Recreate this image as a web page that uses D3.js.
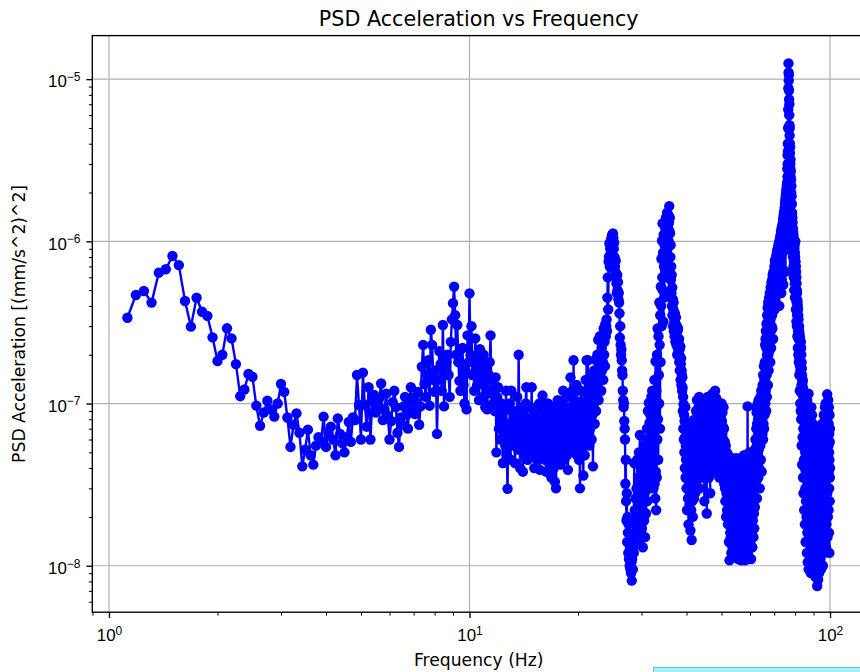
<!DOCTYPE html>
<html>
<head>
<meta charset="utf-8">
<script src="https://cdn.jsdelivr.net/npm/d3@7"></script>
<style>
  html, body { margin: 0; padding: 0; background: #ffffff; }
  svg { display: block; font-family: "DejaVu Sans", sans-serif; }
</style>
</head>
<body>
<svg id="chart" width="860" height="672"></svg>
<script>
// Frequency bins of the spectrum (uniform FFT grid)
const freqStartHz = 1.125;
const freqStepHz = 0.0625;

// PSD of acceleration, stored in units of 1e-9 (mm/s^2)^2
const psdUnit = 1e-9;
const psdNano = [
  338, 467, 494, 419, 641, 673, 812, 714, 429, 298, 449, 368, 347, 256,
  183, 200, 291, 252, 175, 111, 122, 152, 146, 97, 73, 88, 104, 92, 83, 100,
  132, 118, 82, 54, 74, 87, 66, 41, 52, 69, 48, 42, 55, 62, 58, 83,
  54, 66, 72, 60, 48, 81, 65, 57, 50, 62, 77, 58, 82, 79, 150, 98,
  60, 155, 98, 72, 126, 60, 104, 113, 88, 96, 108, 133, 79, 92, 115, 84,
  60, 78, 102, 120, 95, 66, 54, 82, 74, 96, 110, 85, 70, 104, 126, 90,
  108, 86, 100, 118, 74, 96, 169, 230, 132, 110, 150, 185, 97, 285, 230, 140,
  118, 160, 65, 140, 210, 175, 120, 305, 96, 150, 180, 200, 150, 110, 240, 330,
  416, 526, 350, 200, 305, 180, 138, 120, 175, 220, 130, 100, 160, 92, 263, 180,
  478, 200, 300, 150, 180, 120, 252, 160, 130, 190, 105, 216, 140, 175, 110, 200,
  130, 95, 160, 92, 120, 150, 180, 263, 115, 140, 100, 125, 90, 145, 50, 110,
  126, 70, 95, 60, 100, 80, 43, 65, 90, 55, 120, 48, 29.8, 75, 60, 100,
  45, 120, 70, 55, 90, 65, 43, 80, 60, 110, 52, 200, 75, 40, 95, 58,
  70, 38, 85, 50, 65, 100, 126, 55, 45, 80, 62, 95, 48, 70, 126, 60,
  50, 85, 40, 72, 58, 95, 45, 66, 80, 52, 100, 39, 60, 75, 48, 112,
  70, 55, 90, 45, 65, 38, 80, 58, 100, 50, 70, 42, 85, 60, 35, 75,
  55, 95, 40, 68, 33, 80, 30, 62, 50, 105, 45, 72, 58, 88, 42, 65,
  100, 50, 78, 120, 60, 45, 90, 55, 70, 110, 48, 82, 39, 65, 95, 58,
  75, 145, 60, 90, 50, 120, 70, 185, 85, 55, 105, 65, 95, 130, 48, 80,
  60, 100, 45, 75, 30, 55, 120, 70, 90, 50, 65, 36, 105, 80, 48, 95,
  140, 70, 185, 60, 110, 185, 80, 130, 55, 100, 70, 150, 90, 60, 120, 85,
  41, 140, 95, 160, 75, 120, 186, 90, 150, 110, 200, 130, 247, 105, 170, 140,
  260, 150, 190, 120, 220, 160, 250, 180, 140, 290, 200, 240, 170, 310, 260, 300,
  330, 280, 450, 600, 380, 750, 805, 970, 700, 900, 1000, 850, 1050, 950, 1100, 1000,
  1120, 1050, 900, 980, 800, 700, 650, 760, 600, 550, 480, 620, 500, 560, 440, 480,
  420, 360, 255, 300, 230, 200, 215, 185, 160, 150, 120, 105, 95, 100, 78, 70,
  60, 32, 45, 25, 19, 28, 14, 20, 16, 12, 18, 11, 14, 10, 13, 9.5,
  12, 9, 10.5, 8.1, 11, 15, 9.5, 13, 19, 12, 43, 16, 22, 14, 26, 18,
  20, 30, 16, 45, 25, 14, 35, 22, 50, 18, 28, 64, 33, 20, 40, 24,
  30, 17, 45, 22, 13, 35, 26, 55, 19, 40, 28, 15, 48, 32, 21, 60,
  38, 70, 25, 50, 90, 35, 60, 101, 45, 76, 30, 55, 85, 42, 65, 110,
  75, 50, 120, 40, 90, 57, 30, 70, 45, 140, 32, 60, 26, 182, 38, 22,
  120, 35, 200, 60, 290, 80, 45, 260, 150, 100, 420, 230, 70, 350, 180, 525,
  400, 780, 300, 1010, 600, 1290, 500, 850, 320, 1100, 700, 450, 950, 1300, 800, 1200,
  900, 1400, 1100, 600, 1250, 1500, 900, 1350, 700, 1200, 1450, 1000, 1300, 1650, 1150, 1400,
  1120, 800, 950, 580, 700, 480, 620, 400, 520, 350, 440, 300, 380, 420, 280, 340,
  320, 260, 360, 290, 240, 310, 340, 270, 230, 300, 250, 200, 280, 220, 290, 240,
  230, 200, 250, 180, 215, 160, 195, 225, 140, 175, 190, 130, 160, 150, 120, 145,
  125, 90, 110, 70, 99, 60, 85, 50, 78, 40, 62, 95, 35, 55, 45, 72,
  30, 55, 22, 48, 38, 70, 26, 45, 18, 60, 33, 50, 24, 40, 28, 56,
  16.5, 35, 52, 22, 44, 14.4, 30, 65, 25, 38, 20, 48, 79, 30, 42, 26,
  60, 35, 79, 45, 28, 55, 70, 40, 90, 50, 33, 65, 105, 48, 75, 42,
  55, 80, 38, 95, 60, 45, 110, 70, 30, 85, 52, 65, 40, 100, 58, 75,
  90, 48, 70, 97, 35, 62, 80, 50, 105, 42, 68, 88, 55, 25, 75, 60,
  85, 45, 65, 100, 38, 70, 55, 90, 21, 60, 80, 48, 110, 66, 40, 78,
  55, 95, 35, 72, 60, 105, 45, 80, 28, 68, 90, 50, 75, 40, 85, 62,
  100, 58, 75, 115, 48, 82, 65, 95, 38, 70, 110, 55, 88, 42, 78, 60,
  120, 70, 95, 52, 85, 108, 60, 78, 45, 92, 65, 100, 50, 72, 88, 58,
  80, 45, 98, 60, 75, 35, 90, 55, 68, 100, 42, 70, 58, 85, 48, 62,
  100, 55, 78, 40, 65, 88, 50, 72, 36, 60, 95, 45, 58, 70, 32, 52,
  40, 58, 30, 48, 25, 42, 55, 35, 20, 45, 28, 38, 50, 22, 33, 44,
  26, 40, 18, 35, 48, 22, 30, 14, 38, 25, 10.8, 32, 20, 45, 16, 28,
  35, 15, 42, 22, 12, 30, 46, 18, 26, 38, 13, 24, 40, 19, 33, 16,
  28, 44, 14, 36, 20, 11.5, 30, 42, 17, 25, 38, 13, 32, 22, 46, 18,
  24, 35, 12, 40, 19, 28, 45, 15, 33, 21, 11, 37, 26, 16, 42, 23,
  30, 14, 38, 20, 46, 25, 12, 34, 18, 42, 27, 10.8, 31, 22, 44, 16,
  36, 19, 28, 45, 13, 33, 24, 40, 11, 29, 38, 17, 48, 22, 35, 14,
  26, 42, 10.8, 32, 20, 47, 15, 36, 24, 13, 40, 28, 18, 44, 21, 34,
  16, 96, 30, 12, 38, 22, 45, 14, 28, 40, 19, 33, 50, 24, 36, 20,
  22, 35, 14, 42, 18, 28, 11, 33, 25, 46, 16, 30, 20, 38, 13, 27,
  40, 19, 32, 24, 48, 15, 29, 36, 21, 44, 17, 34, 26, 52, 23, 38,
  45, 30, 60, 38, 95, 50, 35, 70, 42, 88, 55, 26, 75, 40, 62, 48,
  58, 100, 45, 80, 35, 66, 105, 52, 90, 40, 75, 95, 60, 30, 85, 70,
  95, 55, 110, 70, 45, 100, 80, 120, 60, 105, 38, 90, 115, 75, 100, 65,
  130, 90, 110, 60, 150, 105, 75, 125, 95, 170, 70, 120, 140, 85, 110, 180,
  140, 230, 100, 180, 250, 120, 280, 160, 90, 220, 310, 150, 240, 110, 200, 350,
  280, 180, 390, 240, 130, 340, 420, 200, 300, 160, 380, 260, 450, 210, 330, 250,
  380, 480, 250, 410, 180, 450, 330, 520, 280, 400, 220, 480, 360, 560, 300, 430,
  500, 350, 580, 290, 470, 620, 400, 540, 250, 600, 440, 650, 380, 520, 640, 420,
  600, 470, 700, 380, 640, 760, 520, 680, 420, 730, 560, 780, 490, 660, 800, 600,
  760, 560, 840, 680, 480, 820, 880, 640, 860, 600, 900, 750, 880, 700, 940, 820,
  920, 520, 970, 650, 950, 400, 1000, 750, 980, 480, 1040, 840, 620, 1020, 1080, 730,
  1100, 700, 1150, 920, 480, 1080, 1200, 980, 580, 1150, 1250, 850, 1220, 1100, 650, 1200,
  1300, 980, 1380, 540, 1350, 1250, 1450, 870, 1500, 1380, 650, 1320, 1550, 1100, 1620, 1450,
  1700, 1000, 1800, 1500, 650, 1750, 1900, 1250, 1950, 1850, 2050, 900, 2100, 1950, 2200, 1850,
  2300, 1900, 2800, 2500, 3400, 3000, 4000, 3600, 5000, 6500, 8800, 12500, 11000, 9800, 10600, 8500,
  7500, 6000, 7000, 5200, 4500, 5000, 4000, 3500, 3800, 3000, 2800, 3200, 2500, 2700, 2200, 2400,
  2000, 1700, 2200, 1500, 1900, 1300, 1700, 1100, 1500, 1200, 1400, 900, 1300, 1050, 1200, 800,
  1150, 850, 1100, 700, 1050, 600, 980, 750, 1000, 500, 900, 650, 950, 550, 850, 450,
  800, 600, 1000, 450, 750, 550, 700, 380, 650, 500, 600, 320, 550, 420, 500, 300,
  480, 350, 435, 260, 420, 300, 400, 220, 380, 280, 350, 200, 330, 250, 300, 180,
  300, 220, 280, 150, 270, 190, 260, 120, 250, 170, 230, 100, 220, 160, 200, 90,
  240, 160, 220, 80, 200, 130, 180, 55, 165, 115, 150, 42, 140, 100, 135, 62,
  140, 80, 125, 35, 120, 70, 110, 28, 100, 60, 95, 45, 90, 22, 85, 55,
  110, 40, 75, 18, 95, 50, 65, 30, 85, 14, 58, 38, 100, 25, 50, 35,
  70, 20, 95, 30, 12, 60, 26, 105, 16, 48, 22, 80, 10.5, 55, 28, 44,
  90, 18, 40, 115, 9.5, 36, 65, 28, 14, 75, 22, 50, 12, 85, 26, 45,
  60, 15, 35, 80, 11, 42, 24, 70, 9, 30, 55, 16, 95, 20, 38, 13,
  48, 25, 85, 12, 33, 60, 18, 40, 10, 75, 28, 14, 52, 22, 68, 11,
  36, 16, 58, 26, 9.5, 44, 20, 70, 13, 32, 50, 11, 62, 24, 40, 15,
  55, 18, 30, 8.5, 45, 22, 65, 12, 38, 27, 9, 50, 16, 72, 20, 34,
  14, 42, 7.5, 28, 58, 10, 35, 19, 48, 11, 30, 8.2, 40, 24, 60, 13,
  32, 16, 52, 9, 26, 44, 12, 36, 20, 62, 10, 30, 48, 15, 38, 22,
  55, 11, 34, 24, 70, 14, 42, 9.5, 28, 50, 18, 36, 12, 60, 25, 40,
  16, 48, 30, 75, 13, 38, 22, 58, 10, 44, 27, 66, 15, 34, 52, 20,
  40, 85, 18, 32, 60, 12, 46, 25, 72, 14, 36, 55, 20, 95, 28, 42,
  62, 16, 48, 30, 100, 22, 38, 70, 13, 50, 26, 85, 18, 44, 34, 65,
  24, 80, 40, 114, 28, 56, 15, 68, 35, 90, 20, 48, 60, 30, 105, 42,
  55, 22, 75, 38, 95, 16, 50, 30, 65, 12, 45, 85, 25, 58, 35, 70,
  40
];

// Axis limits and labelled decades
const xLimits = [0.899, 125.1];
const yLimits = [5.17e-9, 1.856e-5];
const xMajorTicks = [1, 10, 100];
const xTickExponents = ["0", "1", "2"];
const yMajorTicks = [1e-8, 1e-7, 1e-6, 1e-5];
const yTickExponents = ["\u22128", "\u22127", "\u22126", "\u22125"];

const titleText = "PSD Acceleration vs Frequency";
const xLabelText = "Frequency (Hz)";
const yLabelText = "PSD Acceleration [(mm/s^2)^2]";

// Layout
const plot = { left: 92.3, right: 865.1, top: 35.6, bottom: 612.2 };
const majorLen = 5.9, minorLen = 3.4, tickPad = 5.9;
const labelSize = 17.2, tickSize = 16.9, supSize = 12, supRaise = 6.5;

const svg = d3.select("#chart");

const x = d3.scaleLog().domain(xLimits).range([plot.left, plot.right]);
const y = d3.scaleLog().domain(yLimits).range([plot.bottom, plot.top]);

const points = psdNano.map((v, i) => ({ f: freqStartHz + i * freqStepHz, p: v * psdUnit }));

const isDecade = v => Math.abs(Math.log10(v) - Math.round(Math.log10(v))) < 1e-9;
const xMinor = x.ticks().filter(v => !isDecade(v) && v >= xLimits[0] && v <= xLimits[1]);
const yMinor = y.ticks().filter(v => !isDecade(v) && v >= yLimits[0] && v <= yLimits[1]);

// Grid (major decades only), drawn beneath the data
const grid = svg.append("g").attr("stroke", "#b0b0b0").attr("stroke-width", 1.2);
grid.selectAll("line.gx").data(xMajorTicks).join("line")
  .attr("x1", d => x(d)).attr("x2", d => x(d))
  .attr("y1", plot.top).attr("y2", plot.bottom);
grid.selectAll("line.gy").data(yMajorTicks).join("line")
  .attr("x1", plot.left).attr("x2", plot.right)
  .attr("y1", d => y(d)).attr("y2", d => y(d));

// Clip data to the axes box
svg.append("clipPath").attr("id", "plotClip")
  .append("rect")
  .attr("x", plot.left).attr("y", plot.top)
  .attr("width", plot.right - plot.left).attr("height", plot.bottom - plot.top);

const dataLayer = svg.append("g").attr("clip-path", "url(#plotClip)");

const line = d3.line().x(d => x(d.f)).y(d => y(d.p));
dataLayer.append("path")
  .datum(points)
  .attr("d", line)
  .attr("fill", "none")
  .attr("stroke", "#0000ff")
  .attr("stroke-width", 2.4)
  .attr("stroke-linejoin", "round");

dataLayer.append("g").attr("fill", "#0000ff")
  .selectAll("circle").data(points).join("circle")
  .attr("cx", d => x(d.f))
  .attr("cy", d => y(d.p))
  .attr("r", 5.2);

// Axes: minor and major ticks
function styleAxis(g, width) {
  g.select(".domain").remove();
  g.selectAll(".tick line").attr("stroke", "#000").attr("stroke-width", width);
}

svg.append("g")
  .attr("transform", `translate(0,${plot.bottom})`)
  .call(d3.axisBottom(x).tickValues(xMinor).tickSize(minorLen).tickFormat(""))
  .call(g => styleAxis(g, 1.0));

svg.append("g")
  .attr("transform", `translate(${plot.left},0)`)
  .call(d3.axisLeft(y).tickValues(yMinor).tickSize(minorLen).tickFormat(""))
  .call(g => styleAxis(g, 1.0));

const xAxisMajor = svg.append("g")
  .attr("transform", `translate(0,${plot.bottom})`)
  .call(d3.axisBottom(x).tickValues(xMajorTicks).tickSize(majorLen).tickFormat(""))
  .call(g => styleAxis(g, 1.36));

const yAxisMajor = svg.append("g")
  .attr("transform", `translate(${plot.left},0)`)
  .call(d3.axisLeft(y).tickValues(yMajorTicks).tickSize(majorLen).tickFormat(""))
  .call(g => styleAxis(g, 1.36));

// Tick labels written as 10 with a superscript exponent
function powerLabel(text, exponent) {
  text.text(null);
  text.append("tspan").text("10");
  text.append("tspan").attr("dy", -supRaise).attr("font-size", supSize).text(exponent);
}

xAxisMajor.selectAll(".tick").each(function(d, i) {
  const t = d3.select(this).select("text")
    .attr("y", 29.3).attr("dy", null)
    .attr("text-anchor", "middle")
    .attr("font-size", tickSize)
    .attr("fill", "#000");
  powerLabel(t, xTickExponents[i]);
});

yAxisMajor.selectAll(".tick").each(function(d, i) {
  const t = d3.select(this).select("text")
    .attr("x", -(majorLen + tickPad)).attr("y", 7.8).attr("dy", null)
    .attr("text-anchor", "end")
    .attr("font-size", tickSize)
    .attr("fill", "#000");
  powerLabel(t, yTickExponents[i]);
});

// Axes frame
const spines = svg.append("g").attr("stroke", "#000").attr("stroke-width", 1.36).attr("fill", "none");
spines.append("rect")
  .attr("x", plot.left).attr("y", plot.top)
  .attr("width", plot.right - plot.left).attr("height", plot.bottom - plot.top);

// Titles
const midX = (plot.left + plot.right) / 2;
svg.append("text")
  .attr("x", midX).attr("y", 26)
  .attr("text-anchor", "middle")
  .attr("font-size", 20.7)
  .attr("fill", "#000")
  .text(titleText);

svg.append("text")
  .attr("x", midX).attr("y", 666)
  .attr("text-anchor", "middle")
  .attr("font-size", labelSize)
  .attr("fill", "#000")
  .text(xLabelText);

svg.append("text")
  .attr("transform", `translate(25,${(plot.top + plot.bottom) / 2}) rotate(-90)`)
  .attr("text-anchor", "middle")
  .attr("font-size", labelSize)
  .attr("fill", "#000")
  .text(yLabelText);

// Annotation box along the lower edge
svg.append("rect")
  .attr("x", 653.5).attr("y", 667.5)
  .attr("width", 260).attr("height", 40)
  .attr("fill", "#a3eef9")
  .attr("stroke", "#6cc3d3")
  .attr("stroke-width", 1);
</script>
</body>
</html>
